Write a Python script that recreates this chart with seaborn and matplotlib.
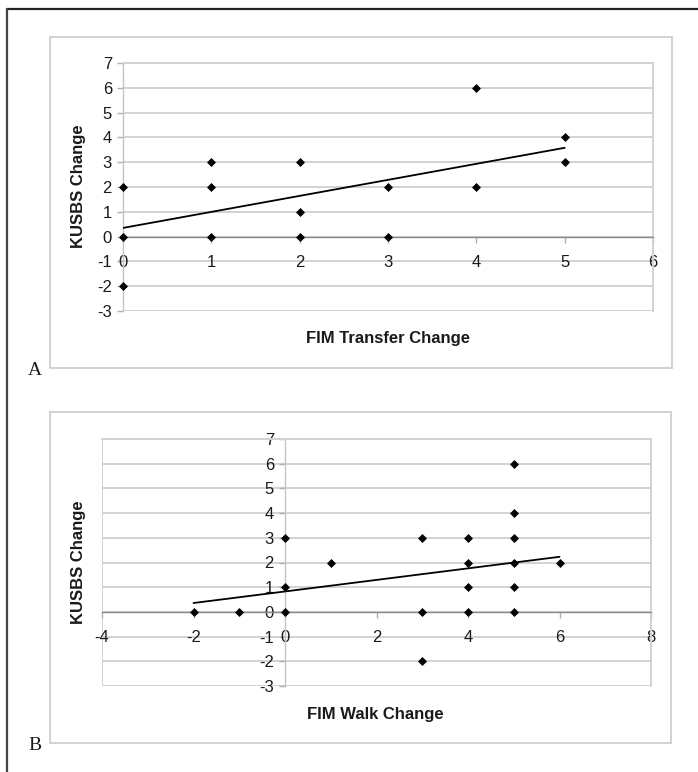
import matplotlib
matplotlib.use("Agg")
import matplotlib.pyplot as plt
from matplotlib.lines import Line2D
from matplotlib.patches import Rectangle
import seaborn as sns
import numpy as np

# ---- data ----
transfer_change = [0, 0, 0, 1, 1, 1, 2, 2, 2, 3, 3, 4, 4, 5, 5]
kusbs_a = [2, 0, -2, 3, 2, 0, 3, 1, 0, 2, 0, 6, 2, 4, 3]
trend_a_x = [0, 5]
trend_a_y = [0.35, 3.58]

walk_change = [-2, -1, 0, 0, 0, 1, 3, 3, 3, 4, 4, 4, 4, 5, 5, 5, 5, 5, 5, 6]
kusbs_b = [0, 0, 3, 1, 0, 2, 3, 0, -2, 3, 2, 1, 0, 6, 4, 3, 2, 1, 0, 2]
trend_b_x = [-2, 6]
trend_b_y = [0.36, 2.23]

y_ticks = list(range(-3, 8))
x_ticks_a = list(range(0, 7))
x_ticks_b = list(range(-4, 9, 2))

y_label = "KUSBS Change"
x_label_a = "FIM Transfer Change"
x_label_b = "FIM Walk Change"

# ---- style ----
sns.set_style("white")
plt.rcParams["font.family"] = ["Liberation Sans", "DejaVu Sans"]

W, H = 698, 772
fig = plt.figure(figsize=(W / 100, H / 100), dpi=100)


def frac(x0, y0, x1, y1):
    return [x0 / W, 1 - y1 / H, (x1 - x0) / W, (y1 - y0) / H]


GRID = "#d2d2d2"
AXIS = "#8a8a8a"


def panel(rect, xs, ys, tx, ty, xticks, xlabel, xl_pos, yl_pos, box, letter, letter_pos):
    # panel gray box
    bx0, by0, bx1, by1 = box
    fig.patches.append(Rectangle((bx0 / W, 1 - by1 / H), (bx1 - bx0) / W, (by1 - by0) / H,
                                 transform=fig.transFigure, fill=False,
                                 edgecolor="#cfcfcf", linewidth=1.3, zorder=0))
    ax = fig.add_axes(frac(*rect))
    ax.set_facecolor("none")
    xmin, xmax = xticks[0], xticks[-1]
    ax.set_xlim(xmin, xmax)
    ax.set_ylim(y_ticks[0], y_ticks[-1])
    ax.set_yticks(y_ticks)
    ax.set_xticks(xticks)
    ax.set_yticklabels([str(v) for v in y_ticks])
    ax.set_xticklabels([str(v) for v in xticks])
    ax.yaxis.grid(True, color=GRID, linewidth=1.4)
    ax.xaxis.grid(False)
    ax.set_axisbelow(True)
    # draw y grid first so that x tick labels sit on top of the gridlines
    ax.yaxis.set_zorder(0.3)
    ax.xaxis.set_zorder(0.6)

    ax.spines["bottom"].set_position(("data", 0))
    ax.spines["bottom"].set_color(AXIS)
    ax.spines["bottom"].set_linewidth(1.0)
    ax.spines["left"].set_position(("data", 0))
    ax.spines["left"].set_color("#c4c4c4")
    ax.spines["left"].set_linewidth(1.0)
    ax.spines["top"].set_color(GRID)
    ax.spines["top"].set_linewidth(1.4)
    ax.spines["right"].set_color(GRID)
    ax.spines["right"].set_linewidth(1.4)
    if xmin < 0:
        ax.axvline(xmin, color=GRID, linewidth=1.4, zorder=0.2)
    ax.axhline(y_ticks[0], color=GRID, linewidth=1.4, zorder=0.2)

    ax.tick_params(axis="x", direction="out", length=4, width=1.0, color="#b0b0b0",
                   pad=9, labelsize=12, labelcolor="#1a1a1a", bottom=True)
    ax.tick_params(axis="y", direction="out", length=4, width=1.0, color="#b0b0b0",
                   pad=4, labelsize=12, labelcolor="#1a1a1a", left=True)

    sns.lineplot(x=tx, y=ty, ax=ax, color="black", linewidth=1.3, zorder=3)
    sns.scatterplot(x=xs, y=ys, ax=ax, marker="D", color="black", s=21,
                    linewidth=0, zorder=4, clip_on=False)
    ax.set_xlabel("")
    ax.set_ylabel("")

    fig.text(xl_pos[0] / W, 1 - xl_pos[1] / H, xlabel, ha="center", va="center",
             fontsize=12, fontweight="bold", color="#1a1a1a")
    fig.text(yl_pos[0] / W, 1 - yl_pos[1] / H, y_label, ha="center", va="center",
             rotation=90, fontsize=12, fontweight="bold", color="#1a1a1a")
    fig.text(letter_pos[0] / W, 1 - letter_pos[1] / H, letter, ha="center", va="center",
             fontsize=14, family=["Liberation Serif", "DejaVu Serif"], color="#1a1a1a")
    return ax


panel((123, 63, 653, 311), transfer_change, kusbs_a, trend_a_x, trend_a_y,
      x_ticks_a, x_label_a, (388, 339), (78, 186), (50, 37, 672, 368), "A", (35, 371))
panel((102, 439, 651, 686), walk_change, kusbs_b, trend_b_x, trend_b_y,
      x_ticks_b, x_label_b, (375, 714), (78, 562), (50, 412, 671, 743), "B", (35, 746))

# outer frame (top and left)
fig.lines.append(Line2D([7 / W, 1], [1 - 9 / H, 1 - 9 / H], transform=fig.transFigure,
                        color="#222222", linewidth=1.6))
fig.lines.append(Line2D([7 / W, 7 / W], [1 - 9 / H, 0], transform=fig.transFigure,
                        color="#444444", linewidth=1.6))

fig.savefig("out.png", dpi=100)
